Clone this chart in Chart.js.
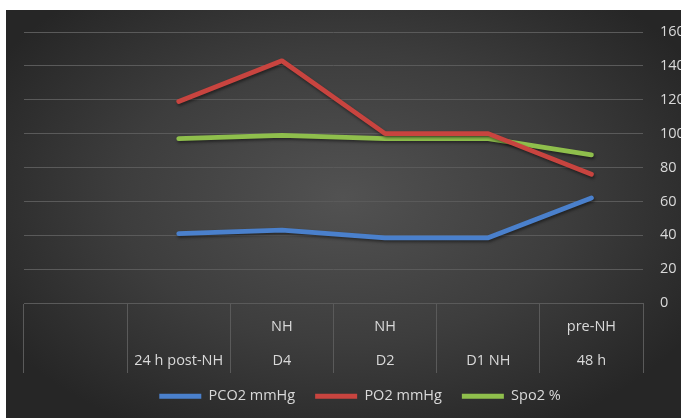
<!DOCTYPE html>
<html>
<head>
<meta charset="utf-8">
<script src="https://cdn.jsdelivr.net/npm/chart.js@4.4.1/dist/chart.umd.min.js"></script>
<style>
  html, body { margin: 0; padding: 0; background: #ffffff; }
  #frame {
    position: absolute; left: 6px; top: 10px; width: 675px; height: 408px;
    overflow: hidden;
    background: radial-gradient(ellipse 60% 65% at 50% 46%, #525252 0%, #3d3d3d 55%, #262626 100%);
  }
  #wrap { position: absolute; left: 0; top: 0; width: 690px; height: 408px; }
</style>
</head>
<body>
<div id="frame"><div id="wrap"><canvas id="c"></canvas></div></div>
<script>
// Categories (two-line labels; the first line is blank for single-line ones)
const categories = [
  ['', ''],
  ['', '24 h post-NH'],
  ['NH', 'D4'],
  ['NH', 'D2'],
  ['', 'D1 NH'],
  ['pre-NH', '48 h']
];
const pco2 = [null, 41, 43, 38.5, 38.5, 62];
const po2  = [null, 119, 143, 100, 100, 76];
const spo2 = [null, 97, 99, 97, 97, 87.5];
const yTicks = [0, 20, 40, 60, 80, 100, 120, 140, 160];

const textColor = '#d9d9d9';
const gridColor = '#5a5a5a';
const font = { family: '"Open Sans", sans-serif', size: 14.5 };

// Soft drop shadow under the series lines only
const lineShadow = {
  id: 'lineShadow',
  beforeDatasetsDraw(chart) {
    const ctx = chart.ctx;
    ctx.save();
    ctx.shadowColor = 'rgba(0,0,0,0.45)';
    ctx.shadowBlur = 3;
    ctx.shadowOffsetX = 1;
    ctx.shadowOffsetY = 2;
  },
  afterDatasetsDraw(chart) { chart.ctx.restore(); }
};

const line = (label, data, color) => ({
  label, data,
  borderColor: color, backgroundColor: color,
  borderWidth: 4.8, pointRadius: 0, pointHoverRadius: 0,
  borderJoinStyle: 'round', borderCapStyle: 'round',
  tension: 0, spanGaps: false
});

new Chart(document.getElementById('c'), {
  type: 'line',
  data: {
    labels: categories,
    datasets: [
      line('PCO2 mmHg', pco2, '#4A80CC'),
      line('PO2 mmHg', po2, '#C8443F'),
      line('Spo2 %', spo2, '#8FBF4C')
    ]
  },
  options: {
    responsive: true,
    maintainAspectRatio: false,
    animation: false,
    layout: { padding: { left: 18, top: 22, right: 0, bottom: 4.5 } },
    plugins: {
      tooltip: { enabled: false },
      legend: {
        position: 'bottom',
        labels: {
          color: textColor, font,
          usePointStyle: true, pointStyle: 'line', pointStyleWidth: 42,
          boxHeight: 13, padding: 20
        }
      }
    },
    scales: {
      x: {
        offset: true,
        afterFit(scale) { scale.height = 66; },
        grid: {
          offset: true, drawOnChartArea: false, drawTicks: true,
          tickLength: 70, color: gridColor, lineWidth: 1
        },
        border: { display: true, color: gridColor, width: 1 },
        ticks: {
          color: textColor, font: { ...font, lineHeight: 34 / 14.5 },
          padding: -63, maxRotation: 0, autoSkip: false
        }
      },
      y: {
        position: 'right',
        min: yTicks[0], max: yTicks[yTicks.length - 1],
        afterBuildTicks(scale) { scale.ticks = yTicks.map(v => ({ value: v })); },
        afterFit(scale) {
          scale.width = 53;
          scale.paddingTop = 0;
          scale.paddingBottom = 0;
        },
        grid: { color: gridColor, lineWidth: 1, drawTicks: false },
        border: { display: false },
        ticks: { color: textColor, font, padding: 17 }
      }
    }
  },
  plugins: [lineShadow]
});
</script>
</body>
</html>
